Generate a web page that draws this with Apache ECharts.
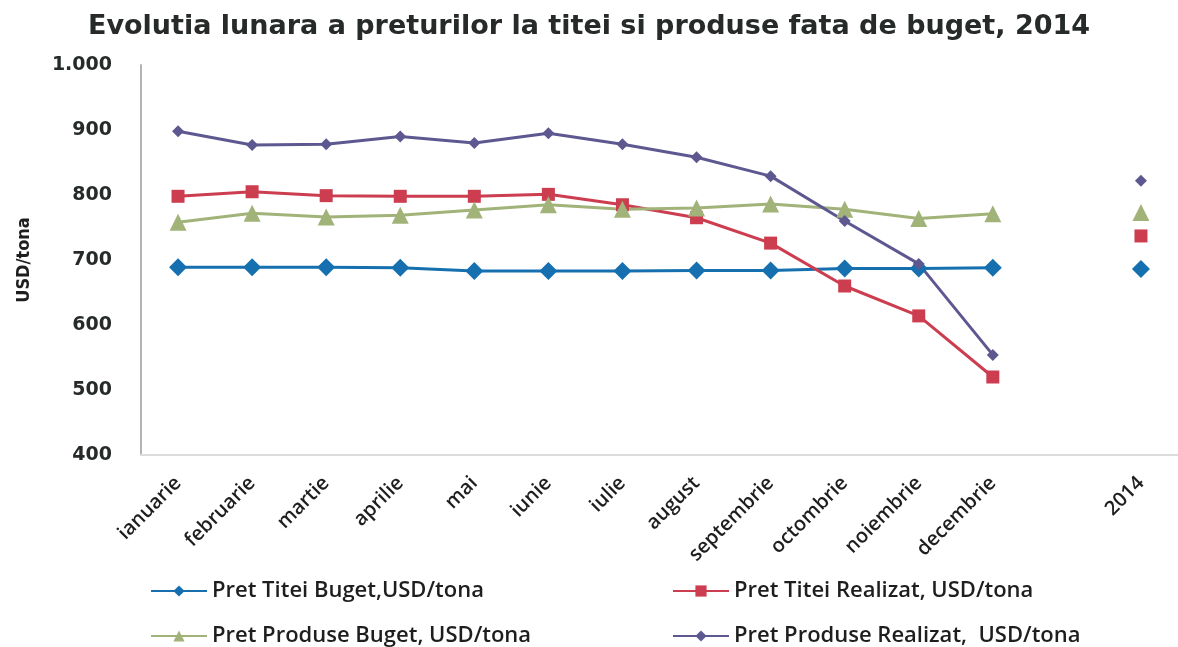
<!DOCTYPE html>
<html>
<head>
<meta charset="utf-8">
<script src="https://cdn.jsdelivr.net/npm/echarts@6/dist/echarts.min.js"></script>
<style>
  html, body { margin: 0; padding: 0; background: #fff; }
  #chart { width: 1178px; height: 647px; }
</style>
</head>
<body>
<div id="chart"></div>
<script>
// categories: 12 months, an empty slot, then the yearly value
var categories = ['ianuarie', 'februarie', 'martie', 'aprilie', 'mai', 'iunie', 'iulie',
  'august', 'septembrie', 'octombrie', 'noiembrie', 'decembrie', '', '2014'];

var titeiBuget      = [689, 689, 689, 688, 683, 683, 683, 684, 684, 687, 687, 688, null, 686];
var titeiRealizat   = [798, 805, 799, 798, 798, 801, 785, 765, 726, 660, 614, 520, null, 737];
var produseBuget    = [758, 772, 766, 769, 777, 785, 778, 780, 786, 778, 764, 771, null, 773];
var produseRealizat = [898, 877, 878, 890, 880, 895, 878, 858, 829, 760, 694, 554, null, 822];

var yTicks = { min: 400, max: 1000, step: 100 };

var names = ['Pret Titei Buget,USD/tona', 'Pret Titei Realizat, USD/tona',
  'Pret Produse Buget, USD/tona', 'Pret Produse Realizat,  USD/tona'];

var chart = echarts.init(document.getElementById('chart'));

var legendText = { fontFamily: 'Open Sans', fontSize: 22, fontWeight: 600, color: '#1e1e1e' };

// one legend per entry so the 2x2 layout is fixed
function legendAt(name, left, top) {
  return {
    data: [name],
    left: left, top: top,
    itemWidth: 56, itemHeight: 14,
    padding: 0,
    textStyle: legendText
  };
}

function line(name, data, color, symbol, size) {
  return {
    name: name,
    type: 'line',
    data: data,
    connectNulls: false,
    symbol: symbol,
    symbolSize: size,
    lineStyle: { color: color, width: 3 },
    itemStyle: { color: color },
    emphasis: { disabled: true }
  };
}

var option = {
  animation: false,
  backgroundColor: '#fff',
  title: {
    text: 'Evolutia lunara a preturilor la titei si produse fata de buget, 2014',
    left: 'center',
    top: 8,
    textStyle: { fontFamily: 'DejaVu Sans', fontSize: 27, fontWeight: 'bold', color: '#262b2a' }
  },
  legend: [
    legendAt(names[0], 150, 580),
    legendAt(names[1], 672, 580),
    legendAt(names[2], 150, 625),
    legendAt(names[3], 672, 625)
  ],
  grid: { left: 141, right: -7, top: 65, bottom: 192, containLabel: false },
  xAxis: {
    type: 'category',
    data: categories,
    boundaryGap: true,
    axisLine: { lineStyle: { color: '#dcdcdc', width: 2 } },
    axisTick: { show: false },
    axisLabel: {
      rotate: 45,
      interval: 0,
      margin: 25,
      fontFamily: 'Open Sans',
      fontSize: 20,
      fontWeight: 600,
      color: '#1e1e1e'
    }
  },
  yAxis: {
    type: 'value',
    min: yTicks.min,
    max: yTicks.max,
    interval: yTicks.step,
    name: 'USD/tona',
    nameLocation: 'middle',
    nameGap: 108,
    nameRotate: 90,
    nameTextStyle: { fontFamily: 'DejaVu Sans Condensed', fontSize: 18, fontWeight: 'bold', color: '#1e1e1e' },
    axisLine: { show: true, lineStyle: { color: '#b4b4b4', width: 2 } },
    axisTick: { show: false },
    splitLine: { show: false },
    axisLabel: {
      margin: 29,
      fontFamily: 'DejaVu Sans',
      fontSize: 19,
      fontWeight: 'bold',
      color: '#262b2a',
      formatter: function (v) { return v >= 1000 ? '1.000' : String(v); }
    }
  },
  series: [
    line(names[0], titeiBuget, '#1670b0', 'diamond', 18),
    line(names[1], titeiRealizat, '#cc3d50', 'rect', 13),
    line(names[2], produseBuget, '#a2b37a', 'triangle', 17),
    line(names[3], produseRealizat, '#5e5890', 'diamond', 12)
  ]
};

chart.setOption(option);
</script>
</body>
</html>
